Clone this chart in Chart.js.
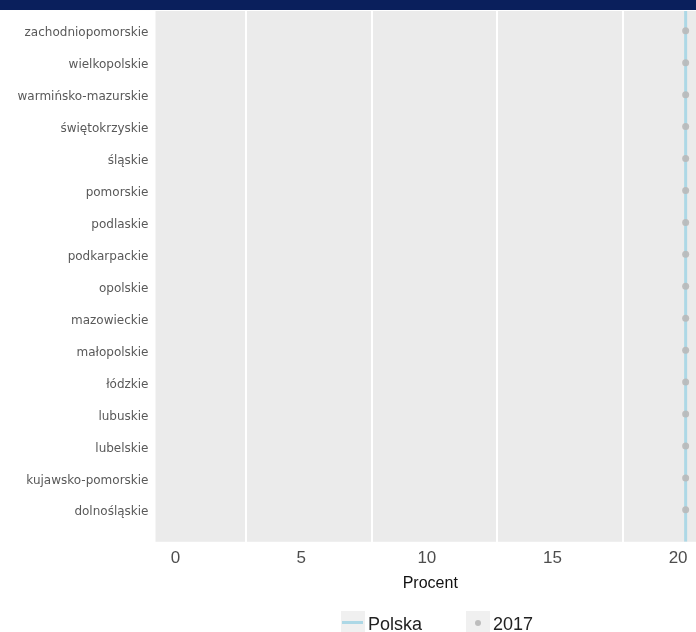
<!DOCTYPE html>
<html>
<head>
<meta charset="utf-8">
<script src="https://cdn.jsdelivr.net/npm/chart.js@4.4.1/dist/chart.umd.min.js"></script>
<style>
  html, body { margin: 0; padding: 0; background: #fff; width: 696px; height: 632px; overflow: hidden; }
  #wrap { position: relative; width: 709px; height: 632px; }
  #topbar { position: absolute; left: 0; top: 0; width: 709px; height: 10px; background: #0a1f5c; }
  #chart { position: absolute; left: 0; top: 0; }
  .key { position: absolute; background: #f0f0f0; width: 24px; height: 24px; }
  .key-line { position: absolute; left: 1px; top: 10px; width: 21px; height: 3px; background: #add8e6; }
  .key-dot { position: absolute; left: 9px; top: 9px; width: 6px; height: 6px; border-radius: 50%; background: #bdbdbd; }
  .leg-text { position: absolute; font-family: "Liberation Sans", Arial, sans-serif; font-size: 18px; line-height: 18px; color: #222; }
</style>
</head>
<body>
<div id="wrap">
  <canvas id="chart" width="709" height="632"></canvas>
  <div id="topbar"></div>
  <div class="key" style="left:341px; top:611px;"><div class="key-line"></div></div>
  <div class="leg-text" style="left:368px; top:615px;">Polska</div>
  <div class="key" style="left:466px; top:611px;"><div class="key-dot"></div></div>
  <div class="leg-text" style="left:493px; top:615px;">2017</div>
</div>
<script>
  // voivodeships, bottom to top as on the chart
  const categories = [
    'dolnośląskie', 'kujawsko-pomorskie', 'lubelskie', 'lubuskie', 'łódzkie',
    'małopolskie', 'mazowieckie', 'opolskie', 'podkarpackie', 'podlaskie',
    'pomorskie', 'śląskie', 'świętokrzyskie', 'warmińsko-mazurskie',
    'wielkopolskie', 'zachodniopomorskie'
  ];
  const values2017 = [
    20.3, 20.3, 20.3, 20.3, 20.3, 20.3, 20.3, 20.3,
    20.3, 20.3, 20.3, 20.3, 20.3, 20.3, 20.3, 20.3
  ];
  const polska = [20.3];
  const xTicks = [0, 5, 10, 15, 20];
  const xGridLines = [2.8, 7.8, 12.8, 17.8];

  const X_MIN = -0.8, X_MAX = 21.07;
  const Y_MIN = 0, Y_MAX = 16.62;

  const panelBg = {
    id: 'panelBg',
    beforeDraw(chart) {
      const a = chart.chartArea;
      const c = chart.ctx;
      c.save();
      c.fillStyle = '#ebebeb';
      c.fillRect(a.left, a.top, a.right - a.left, a.bottom - a.top);
      c.restore();
    }
  };

  new Chart(document.getElementById('chart'), {
    type: 'scatter',
    data: {
      datasets: [
        {
          type: 'line',
          label: 'Polska',
          data: [{ x: polska[0], y: Y_MIN }, { x: polska[0], y: Y_MAX }],
          borderColor: '#add8e6',
          borderWidth: 3,
          pointRadius: 0,
          order: 2
        },
        {
          label: '2017',
          data: categories.map((c, i) => ({ x: values2017[i], y: i + 1 })),
          backgroundColor: 'rgba(185,185,185,0.9)',
          borderWidth: 0,
          pointRadius: 3.5,
          order: 1
        }
      ]
    },
    options: {
      responsive: false,
      animation: false,
      layout: { padding: { top: 11, left: 0, right: 0, bottom: 34.1 } },
      plugins: { legend: { display: false }, tooltip: { enabled: false } },
      scales: {
        x: {
          type: 'linear',
          min: X_MIN,
          max: X_MAX,
          afterBuildTicks: s => {
            s.ticks = xTicks.concat(xGridLines).sort((a, b) => a - b).map(v => ({ value: v }));
          },
          border: { display: false },
          grid: {
            drawTicks: false,
            lineWidth: 2,
            color: ctx => (ctx.tick && xGridLines.includes(ctx.tick.value)) ? '#ffffff' : 'rgba(0,0,0,0)'
          },
          ticks: {
            autoSkip: false,
            maxRotation: 0,
            padding: 6,
            color: '#4d4d4d',
            font: { family: '"Liberation Sans", Arial, sans-serif', size: 17 },
            callback: v => xTicks.includes(v) ? String(v) : ''
          },
          title: {
            display: true,
            text: 'Procent',
            color: '#111',
            padding: { top: 0, bottom: 4.5 },
            font: { family: '"Liberation Sans", Arial, sans-serif', size: 16 }
          }
        },
        y: {
          type: 'linear',
          min: Y_MIN,
          max: Y_MAX,
          afterBuildTicks: s => {
            s.ticks = categories.map((c, i) => ({ value: i + 1 }));
          },
          afterFit: s => {
            s.width = 155.5;
            s.paddingTop = 0;
            s.paddingBottom = 0;
          },
          border: { display: false },
          grid: { display: false, drawTicks: false },
          ticks: {
            autoSkip: false,
            padding: 7,
            labelOffset: 2.5,
            color: '#595959',
            font: { family: '"DejaVu Sans", Verdana, sans-serif', size: 12 },
            callback: v => categories[v - 1]
          }
        }
      }
    },
    plugins: [panelBg]
  });
</script>
</body>
</html>
